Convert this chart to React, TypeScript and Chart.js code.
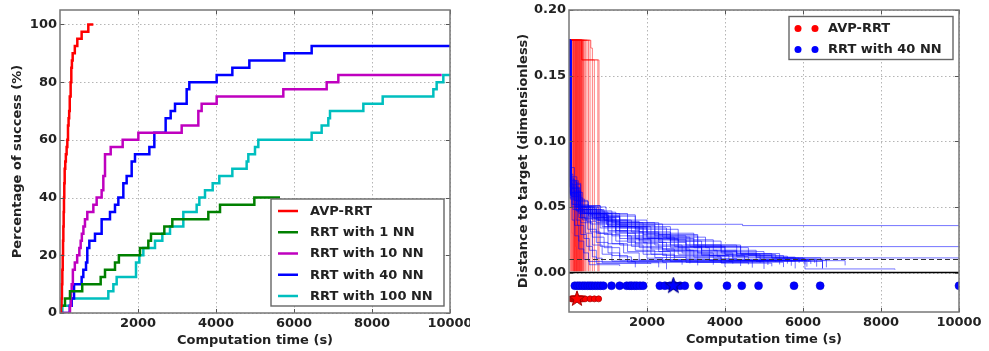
import React, { useEffect, useRef } from "react";
import { Chart, registerables } from "chart.js";

Chart.register(...registerables);

type Pt = [number, number];

// ---------- Left chart: percentage of success ----------
const successLabels = ["AVP-RRT", "RRT with 1 NN", "RRT with 10 NN", "RRT with 40 NN", "RRT with 100 NN"];
const successColors = ["#ff0000", "#008000", "#bf00bf", "#0000ff", "#00bfbf"];

const avpSuccess: Pt[] = [[0, 0], [25, 2.5], [40, 5], [50, 10], [60, 15], [70, 20], [78, 25], [86, 30], [94, 35], [102, 40], [110, 45], [120, 50], [135, 52.5], [150, 55], [170, 57.5], [188, 60], [205, 65], [220, 67.5], [235, 70], [250, 75], [273, 80], [290, 85], [305, 87.5], [325, 90], [380, 92.5], [444, 95], [555, 97.5], [726, 100], [855, 100]];
const nn1Success: Pt[] = [[0, 2.5], [128, 5], [256, 7.5], [570, 10], [1043, 12.5], [1154, 15], [1410, 17.5], [1510, 20], [2051, 22.5], [2265, 25], [2333, 27.5], [2675, 30], [2880, 32.5], [3803, 35], [4103, 37.5], [4983, 40], [5641, 40]];
const nn10Success: Pt[] = [[0, 0], [256, 2.5], [280, 7.5], [300, 10], [330, 15], [380, 17.5], [440, 20], [496, 22.5], [530, 25], [560, 27.5], [600, 30], [640, 32.5], [700, 35], [855, 37.5], [940, 40], [1068, 42.5], [1111, 47.5], [1154, 55], [1300, 57.5], [1607, 60], [2009, 62.5], [3120, 65], [3547, 70], [3632, 72.5], [4017, 75], [5726, 77.5], [6838, 80], [7137, 82.5], [9786, 82.5]];
const nn40Success: Pt[] = [[0, 0], [250, 2.5], [300, 5], [360, 10], [555, 12.5], [598, 15], [667, 17.5], [700, 22.5], [752, 25], [897, 27.5], [1068, 32.5], [1282, 35], [1410, 37.5], [1496, 40], [1624, 45], [1709, 47.5], [1838, 52.5], [1923, 55], [2291, 57.5], [2419, 62.5], [2709, 67.5], [2838, 70], [2949, 72.5], [3248, 77.5], [3316, 80], [4017, 82.5], [4419, 85], [4855, 87.5], [5752, 90], [6453, 92.5], [10000, 92.5]];
const nn100Success: Pt[] = [[0, 0], [60, 2.5], [273, 5], [1239, 7.5], [1368, 10], [1453, 12.5], [1949, 17.5], [2034, 20], [2137, 22.5], [2436, 25], [2624, 27.5], [2821, 30], [3162, 35], [3504, 37.5], [3573, 40], [3718, 42.5], [3915, 45], [4085, 47.5], [4419, 50], [4786, 52.5], [4829, 55], [5000, 57.5], [5085, 60], [6453, 62.5], [6709, 65], [6880, 67.5], [6923, 70], [7778, 72.5], [8274, 75], [9573, 77.5], [9658, 80], [9829, 82.5], [10000, 82.5]];

const timeTicks = [2000, 4000, 6000, 8000, 10000];
const percentTicks = [0, 20, 40, 60, 80, 100];
const distanceTicks = [0, 0.05, 0.1, 0.15, 0.2];

// ---------- Right chart: distance to target ----------
const distanceLabels = ["AVP-RRT", "RRT with 40 NN"];
const avpRuns: Pt[][] = [
  [[0, 0.177], [40, 0.001]],
  [[0, 0.177], [60, 0.001]],
  [[0, 0.177], [75, 0.001]],
  [[0, 0.177], [85, 0.03], [95, 0.001]],
  [[0, 0.177], [105, 0.001]],
  [[0, 0.177], [115, 0.001]],
  [[0, 0.177], [125, 0.05], [140, 0.001]],
  [[0, 0.177], [130, 0.001]],
  [[0, 0.177], [145, 0.001]],
  [[0, 0.177], [155, 0.001]],
  [[0, 0.177], [165, 0.02], [175, 0.001]],
  [[0, 0.177], [170, 0.001]],
  [[0, 0.177], [185, 0.001]],
  [[0, 0.177], [195, 0.001]],
  [[0, 0.177], [200, 0.001]],
  [[0, 0.177], [210, 0.001]],
  [[0, 0.177], [220, 0.001]],
  [[0, 0.177], [230, 0.001]],
  [[0, 0.177], [240, 0.001]],
  [[0, 0.177], [250, 0.001]],
  [[0, 0.177], [260, 0.001]],
  [[0, 0.177], [270, 0.001]],
  [[0, 0.177], [280, 0.001]],
  [[0, 0.177], [290, 0.001]],
  [[0, 0.177], [300, 0.001]],
  [[0, 0.177], [310, 0.001]],
  [[0, 0.177], [320, 0.001]],
  [[0, 0.177], [330, 0.001]],
  [[0, 0.177], [345, 0.001]],
  [[0, 0.177], [360, 0.001]],
  [[0, 0.177], [375, 0.001]],
  [[0, 0.177], [390, 0.001]],
  [[0, 0.177], [420, 0.001]],
  [[0, 0.177], [460, 0.001]],
  [[0, 0.177], [500, 0.001]],
  [[0, 0.177], [540, 0.001]],
  [[0, 0.177], [560, 0.171], [600, 0.001]],
  [[0, 0.177], [330, 0.162], [650, 0.001]],
  [[0, 0.177], [330, 0.162], [740, 0.001]],
  [[0, 0.177], [330, 0.162], [770, 0.001]],
];
const nn40Runs: Pt[][] = [
  [[0, 0.177], [15, 0.09], [40, 0.06], [80, 0.04], [150, 0.028], [250, 0.018], [380, 0.01], [520, 0.006], [1300, 0.005]],
  [[0, 0.177], [20, 0.07], [60, 0.05], [140, 0.036], [250, 0.024], [380, 0.015], [500, 0.0085], [1700, 0.004]],
  [[0, 0.177], [10, 0.15], [25, 0.075], [70, 0.052], [180, 0.04], [300, 0.029], [450, 0.02], [600, 0.012], [700, 0.007], [2100, 0.0065]],
  [[0, 0.177], [40, 0.068], [100, 0.048], [220, 0.036], [380, 0.026], [520, 0.017], [700, 0.011], [850, 0.0075], [2500, 0.0025]],
  [[0, 0.177], [15, 0.09], [60, 0.058], [250, 0.042], [420, 0.03], [600, 0.021], [850, 0.014], [1100, 0.0088], [2900, 0.006]],
  [[0, 0.177], [35, 0.072], [120, 0.055], [300, 0.045], [480, 0.033], [700, 0.023], [1000, 0.015], [1300, 0.0095], [3100, 0.007]],
  [[0, 0.177], [20, 0.11], [50, 0.064], [150, 0.05], [350, 0.04], [550, 0.031], [800, 0.02], [1100, 0.013], [1500, 0.008], [2300, 0.004]],
  [[0, 0.177], [20, 0.075], [100, 0.052], [300, 0.038], [600, 0.027], [900, 0.019], [1300, 0.012], [1600, 0.0085], [3300, 0.0055]],
  [[0, 0.177], [45, 0.069], [200, 0.05], [450, 0.039], [700, 0.03], [1000, 0.022], [1400, 0.015], [1800, 0.0095], [3700, 0.006]],
  [[0, 0.177], [15, 0.13], [30, 0.06], [180, 0.047], [400, 0.041], [750, 0.03], [1100, 0.022], [1500, 0.016], [2000, 0.011], [2400, 0.0078], [4000, 0.0045]],
  [[0, 0.177], [25, 0.073], [200, 0.054], [500, 0.044], [800, 0.034], [1200, 0.024], [1700, 0.017], [2200, 0.0115], [2600, 0.0085], [4200, 0.0068]],
  [[0, 0.177], [40, 0.063], [150, 0.048], [550, 0.037], [900, 0.029], [1300, 0.021], [1900, 0.014], [2500, 0.0098], [4400, 0.005]],
  [[0, 0.177], [30, 0.1], [60, 0.06], [250, 0.048], [600, 0.04], [1000, 0.031], [1500, 0.023], [2000, 0.016], [2600, 0.0115], [3000, 0.0078], [4600, 0.0062]],
  [[0, 0.177], [35, 0.067], [300, 0.05], [700, 0.038], [1100, 0.028], [1600, 0.02], [2100, 0.014], [2700, 0.0095], [4700, 0.0038]],
  [[0, 0.177], [50, 0.07], [200, 0.052], [500, 0.043], [900, 0.035], [1300, 0.026], [1800, 0.019], [2400, 0.013], [3100, 0.0089], [4900, 0.0075]],
  [[0, 0.177], [20, 0.065], [150, 0.05], [600, 0.042], [1000, 0.032], [1500, 0.025], [2100, 0.018], [2700, 0.012], [3300, 0.0082], [5000, 0.0028]],
  [[0, 0.177], [45, 0.061], [250, 0.049], [700, 0.04], [1200, 0.03], [1700, 0.022], [2300, 0.016], [3000, 0.011], [3600, 0.0091], [5100, 0.0058]],
  [[0, 0.177], [30, 0.057], [350, 0.046], [800, 0.039], [1300, 0.031], [1900, 0.023], [2500, 0.017], [3300, 0.012], [3900, 0.0072], [5200, 0.0048]],
  [[0, 0.177], [25, 0.09], [55, 0.068], [300, 0.05], [550, 0.044], [1000, 0.036], [1500, 0.027], [2100, 0.02], [2800, 0.014], [3600, 0.0094], [5300, 0.0083]],
  [[0, 0.177], [40, 0.064], [250, 0.051], [800, 0.043], [1300, 0.034], [1900, 0.026], [2600, 0.019], [3400, 0.013], [4100, 0.0087], [5400, 0.0062]],
  [[0, 0.177], [30, 0.071], [150, 0.05], [650, 0.041], [1200, 0.032], [1800, 0.024], [2400, 0.017], [3200, 0.0118], [3900, 0.0079], [5500, 0.0042]],
  [[0, 0.177], [50, 0.062], [300, 0.045], [900, 0.037], [1500, 0.028], [2200, 0.021], [2900, 0.015], [3700, 0.0108], [4300, 0.0093], [5600, 0.0068]],
  [[0, 0.177], [25, 0.066], [200, 0.048], [700, 0.042], [1300, 0.035], [2000, 0.027], [2700, 0.02], [3400, 0.014], [4200, 0.0098], [5700, 0.0052]],
  [[0, 0.177], [35, 0.059], [300, 0.044], [1000, 0.035], [1700, 0.026], [2400, 0.018], [3100, 0.013], [4000, 0.0088], [5800, 0.0032]],
  [[0, 0.177], [45, 0.064], [280, 0.048], [900, 0.04], [1600, 0.031], [2300, 0.023], [3000, 0.017], [3800, 0.0122], [4600, 0.0096], [5900, 0.0074]],
  [[0, 0.177], [30, 0.061], [350, 0.045], [1100, 0.038], [1900, 0.029], [2600, 0.021], [3300, 0.015], [4200, 0.0112], [4900, 0.0091], [6000, 0.0087]],
  [[0, 0.177], [40, 0.067], [200, 0.05], [950, 0.043], [1700, 0.034], [2500, 0.026], [3200, 0.019], [4000, 0.0135], [4800, 0.0085], [6050, 0.0062]],
  [[0, 0.177], [60, 0.058], [300, 0.042], [1200, 0.034], [2000, 0.026], [2800, 0.019], [3600, 0.013], [4500, 0.0092], [6100, 0.0045]],
  [[0, 0.177], [30, 0.065], [250, 0.046], [1000, 0.039], [1800, 0.031], [2600, 0.024], [3400, 0.017], [4300, 0.012], [5000, 0.0097], [6150, 0.0082]],
  [[0, 0.177], [50, 0.062], [300, 0.043], [1300, 0.036], [2200, 0.028], [3000, 0.021], [3900, 0.015], [4800, 0.0115], [5400, 0.009], [6200, 0.0066]],
  [[0, 0.177], [35, 0.06], [300, 0.041], [1100, 0.035], [2100, 0.027], [3100, 0.02], [4000, 0.014], [4900, 0.0108], [5600, 0.0091], [7080, 0.0055]],
  [[0, 0.177], [45, 0.063], [250, 0.045], [1300, 0.038], [2300, 0.029], [3300, 0.021], [4300, 0.0145], [5200, 0.011], [5900, 0.0094], [6050, 0.0028], [8360, 0.0023]],
  [[0, 0.177], [25, 0.069], [200, 0.047], [900, 0.04], [2000, 0.03], [3200, 0.021], [4400, 0.0138], [5300, 0.0112], [5770, 0.0098], [6300, 0.0075]],
  [[0, 0.177], [40, 0.061], [300, 0.046], [1200, 0.037], [2400, 0.027], [3500, 0.019], [4600, 0.013], [5500, 0.0112], [6450, 0.0095], [6600, 0.004]],
  [[0, 0.177], [30, 0.056], [400, 0.045], [1500, 0.035], [2600, 0.025], [3700, 0.017], [4800, 0.0125], [5600, 0.0108], [6050, 0.0085], [6500, 0.003]],
  [[0, 0.177], [50, 0.066], [200, 0.051], [800, 0.044], [1700, 0.033], [2800, 0.024], [3900, 0.016], [5000, 0.0118], [5800, 0.0102], [6350, 0.0045]],
  [[0, 0.177], [35, 0.059], [300, 0.047], [1100, 0.038], [2200, 0.028], [3300, 0.02], [4400, 0.0145], [5400, 0.0112], [6000, 0.0098], [6500, 0.0035]],
  [[0, 0.177], [30, 0.08], [140, 0.055], [480, 0.045], [960, 0.0368], [4450, 0.0358], [10000, 0.0358]],
  [[0, 0.177], [50, 0.07], [240, 0.05], [750, 0.04], [1500, 0.03], [2300, 0.025], [2800, 0.0198], [10000, 0.0198]],
  [[0, 0.177], [40, 0.065], [280, 0.048], [850, 0.035], [1800, 0.025], [3000, 0.016], [4300, 0.013], [5200, 0.0112], [10000, 0.0108]],
];
const avpDoneTimes = [60, 90, 110, 130, 150, 170, 190, 210, 230, 250, 270, 290, 310, 330, 360, 410, 540, 650, 760];
const nn40DoneTimes = [150, 220, 280, 350, 410, 480, 540, 600, 670, 740, 810, 880, 1090, 1300, 1480, 1560, 1610, 1680, 1740, 1820, 1900, 2330, 2460, 2590, 2720, 2850, 2970, 3320, 4050, 4430, 4860, 5770, 6440, 10000];
const avpStarTime = 205;
const nn40StarTime = 2675;
const avpRowLevel = -0.02;
const nn40RowLevel = -0.01;
const targetLevel = 0.01;
const zeroLevel = 0;

const FONT = "'DejaVu Sans', sans-serif";
const TEXT = "#222";

function toXY(p: Pt[]) {
  return p.map(([x, y]) => ({ x, y }));
}

function makeStar(fill: string, stroke: string, R: number) {
  const size = Math.ceil(R * 2 + 2);
  const c = document.createElement("canvas");
  c.width = size;
  c.height = size;
  const g = c.getContext("2d")!;
  g.translate(size / 2, size / 2);
  g.beginPath();
  for (let i = 0; i < 10; i++) {
    const r = i % 2 === 0 ? R : R * 0.4;
    const a = -Math.PI / 2 + (i * Math.PI) / 5;
    g.lineTo(r * Math.cos(a), r * Math.sin(a));
  }
  g.closePath();
  g.fillStyle = fill;
  g.fill();
  g.strokeStyle = stroke;
  g.lineWidth = 1;
  g.stroke();
  return c;
}

const axesPlugin = {
  id: "mplAxes",
  beforeDatasetsDraw(chart: any) {
    const { ctx, chartArea: a, scales } = chart;
    ctx.save();
    ctx.strokeStyle = "#b5b5b5";
    ctx.lineWidth = 1;
    ctx.setLineDash([1.5, 2.5]);
    ctx.beginPath();
    for (const t of scales.x.ticks) {
      const px = Math.round(scales.x.getPixelForValue(t.value)) + 0.5;
      ctx.moveTo(px, a.top);
      ctx.lineTo(px, a.bottom);
    }
    for (const t of scales.y.ticks) {
      const py = Math.round(scales.y.getPixelForValue(t.value)) + 0.5;
      ctx.moveTo(a.left, py);
      ctx.lineTo(a.right, py);
    }
    ctx.stroke();
    ctx.restore();
  },
  afterDatasetsDraw(chart: any) {
    const { ctx, chartArea: a, scales } = chart;
    ctx.save();
    ctx.strokeStyle = "#555";
    ctx.lineWidth = 1;
    ctx.beginPath();
    for (const t of scales.x.ticks) {
      const px = Math.round(scales.x.getPixelForValue(t.value)) + 0.5;
      ctx.moveTo(px, a.bottom);
      ctx.lineTo(px, a.bottom - 4);
      ctx.moveTo(px, a.top);
      ctx.lineTo(px, a.top + 4);
    }
    for (const t of scales.y.ticks) {
      const py = Math.round(scales.y.getPixelForValue(t.value)) + 0.5;
      ctx.moveTo(a.left, py);
      ctx.lineTo(a.left + 4, py);
      ctx.moveTo(a.right, py);
      ctx.lineTo(a.right - 4, py);
    }
    ctx.stroke();
    ctx.strokeStyle = "#777";
    ctx.lineWidth = 1.5;
    ctx.strokeRect(a.left, a.top, a.right - a.left, a.bottom - a.top);
    ctx.restore();
  },
};

type LegendItem = { label: string; color: string; kind: "line" | "dots" };

function legendPlugin(items: LegendItem[], corner: "br" | "tr", width: number, rowH: number) {
  return {
    id: "customLegend",
    afterDraw(chart: any) {
      const { ctx, chartArea: a } = chart;
      const h = 12 + rowH * (items.length - 1) + 10;
      const right = a.right - 6;
      const left = right - width;
      const top = corner === "br" ? a.bottom - 7 - h : a.top + 6.5;
      ctx.save();
      ctx.fillStyle = "#fff";
      ctx.fillRect(left, top, width, h);
      ctx.strokeStyle = "#666";
      ctx.lineWidth = 1.4;
      ctx.strokeRect(left, top, width, h);
      ctx.font = `bold 13px ${FONT}`;
      ctx.textBaseline = "middle";
      ctx.textAlign = "left";
      items.forEach((it, i) => {
        const y = top + 12 + i * rowH;
        if (it.kind === "line") {
          ctx.strokeStyle = it.color;
          ctx.lineWidth = 2.5;
          ctx.beginPath();
          ctx.moveTo(left + 7, y);
          ctx.lineTo(left + 27, y);
          ctx.stroke();
        } else {
          ctx.fillStyle = it.color;
          for (const dx of [9, 26]) {
            ctx.beginPath();
            ctx.arc(left + dx, y, 3.5, 0, Math.PI * 2);
            ctx.fill();
          }
        }
        ctx.fillStyle = TEXT;
        ctx.fillText(it.label, left + 39, y + 0.5);
      });
      ctx.restore();
    },
  };
}

function fixedAxis(size: number, horizontal: boolean) {
  return (scale: any) => {
    if (horizontal) scale.height = size;
    else scale.width = size;
    scale.paddingLeft = 0;
    scale.paddingRight = 0;
    scale.paddingTop = 0;
    scale.paddingBottom = 0;
  };
}

const tickFont = { family: FONT, size: 13, weight: "bold" as const };
const noGrid = { display: false, drawTicks: false, tickLength: 0 };

function LeftChart() {
  const ref = useRef<HTMLCanvasElement>(null);
  useEffect(() => {
    const series = [avpSuccess, nn1Success, nn10Success, nn40Success, nn100Success];
    const datasets = series.map((s, i) => ({
      label: successLabels[i],
      data: toXY(s),
      borderColor: successColors[i],
      backgroundColor: successColors[i],
      borderWidth: 2.5,
      pointRadius: 0,
      stepped: true,
      fill: false,
    }));
    const chart = new Chart(ref.current!, {
      type: "line",
      data: { datasets: datasets as any },
      options: {
        animation: false,
        responsive: false,
        devicePixelRatio: 1,
        events: [],
        layout: { padding: { top: 10, right: 20, bottom: 0, left: 0 } },
        plugins: { legend: { display: false }, tooltip: { enabled: false } },
        scales: {
          x: {
            type: "linear",
            min: 0,
            max: 10000,
            grid: noGrid,
            border: { display: false },
            afterBuildTicks: (s: any) => { s.ticks = timeTicks.map((v) => ({ value: v })); },
            afterFit: fixedAxis(38, true),
            ticks: { font: tickFont, color: TEXT, padding: 3, autoSkip: false, maxRotation: 0, callback: (v: any) => String(v) },
            title: { display: true, text: "Computation time (s)", font: tickFont, color: TEXT, padding: { top: 0, bottom: 3 } },
          },
          y: {
            type: "linear",
            min: 0,
            max: 105,
            grid: noGrid,
            border: { display: false },
            afterBuildTicks: (s: any) => { s.ticks = percentTicks.map((v) => ({ value: v })); },
            afterFit: fixedAxis(60, false),
            ticks: { font: tickFont, color: TEXT, padding: 3, callback: (v: any) => String(v) },
            title: { display: true, text: "Percentage of success (%)", font: tickFont, color: TEXT, padding: { top: 10, bottom: 0 } },
          },
        },
      },
      plugins: [
        axesPlugin,
        legendPlugin(
          successLabels.map((l, i) => ({ label: l, color: successColors[i], kind: "line" as const })),
          "br",
          173,
          21.25
        ),
      ],
    });
    return () => chart.destroy();
  }, []);
  return <canvas ref={ref} width={470} height={351} style={{ position: "absolute", left: 0, top: 0 }} />;
}

function RightChart() {
  const ref = useRef<HTMLCanvasElement>(null);
  useEffect(() => {
    const redLine = "rgba(255,0,0,0.5)";
    const blueLine = "rgba(0,0,255,0.55)";
    const datasets: any[] = [
      {
        data: [{ x: nn40StarTime, y: nn40RowLevel }],
        showLine: false,
        pointStyle: makeStar("#0000ff", "#000080", 8.5),
        pointRadius: 8,
      },
      {
        data: [{ x: avpStarTime, y: avpRowLevel }],
        showLine: false,
        pointStyle: makeStar("#ff0000", "#a00000", 8),
        pointRadius: 8,
      },
      {
        data: nn40DoneTimes.map((t) => ({ x: t, y: nn40RowLevel })),
        showLine: false,
        pointRadius: 4,
        pointBackgroundColor: "#0000ff",
        pointBorderColor: "#0000c0",
        pointBorderWidth: 0.5,
      },
      {
        data: avpDoneTimes.map((t) => ({ x: t, y: avpRowLevel })),
        showLine: false,
        pointRadius: 3,
        pointBackgroundColor: "#ff0000",
        pointBorderColor: "#b00000",
        pointBorderWidth: 0.8,
      },
      {
        data: [{ x: 0, y: zeroLevel }, { x: 10000, y: zeroLevel }],
        borderColor: "#000",
        borderWidth: 1.5,
        pointRadius: 0,
      },
      {
        data: [{ x: 0, y: targetLevel }, { x: 10000, y: targetLevel }],
        borderColor: "#333",
        borderWidth: 1.2,
        borderDash: [5, 3],
        pointRadius: 0,
      },
      ...nn40Runs.map((r) => ({
        data: toXY(r),
        borderColor: blueLine,
        borderWidth: 1,
        pointRadius: 0,
        stepped: true,
      })),
      ...avpRuns.map((r) => ({
        data: toXY(r),
        borderColor: redLine,
        borderWidth: 1,
        pointRadius: 0,
        stepped: true,
      })),
    ];
    const chart = new Chart(ref.current!, {
      type: "line",
      data: { datasets },
      options: {
        animation: false,
        responsive: false,
        devicePixelRatio: 1,
        events: [],
        layout: { padding: { top: 10, right: 30, bottom: 0, left: 0 } },
        plugins: { legend: { display: false }, tooltip: { enabled: false } },
        scales: {
          x: {
            type: "linear",
            min: 0,
            max: 10000,
            grid: noGrid,
            border: { display: false },
            afterBuildTicks: (s: any) => { s.ticks = timeTicks.map((v) => ({ value: v })); },
            afterFit: fixedAxis(39, true),
            ticks: { font: tickFont, color: TEXT, padding: 3, autoSkip: false, maxRotation: 0, callback: (v: any) => String(v) },
            title: { display: true, text: "Computation time (s)", font: tickFont, color: TEXT, padding: { top: 0, bottom: 4 } },
          },
          y: {
            type: "linear",
            min: -0.03,
            max: 0.2,
            grid: noGrid,
            border: { display: false },
            afterBuildTicks: (s: any) => { s.ticks = distanceTicks.map((v) => ({ value: v })); },
            afterFit: fixedAxis(69, false),
            ticks: { font: tickFont, color: TEXT, padding: 3, callback: (v: any) => Number(v).toFixed(2) },
            title: { display: true, text: "Distance to target (dimensionless)", font: tickFont, color: TEXT, padding: { top: 16, bottom: 0 } },
          },
        },
      },
      plugins: [
        axesPlugin,
        legendPlugin(
          [
            { label: distanceLabels[0], color: "#ff0000", kind: "dots" },
            { label: distanceLabels[1], color: "#0000ff", kind: "dots" },
          ],
          "tr",
          164,
          21
        ),
      ],
    });
    return () => chart.destroy();
  }, []);
  return <canvas ref={ref} width={489} height={351} style={{ position: "absolute", left: 500, top: 0 }} />;
}

export default function App() {
  return (
    <div style={{ position: "absolute", left: 0, top: 0, width: 989, height: 351, background: "#fff" }}>
      <LeftChart />
      <RightChart />
    </div>
  );
}
